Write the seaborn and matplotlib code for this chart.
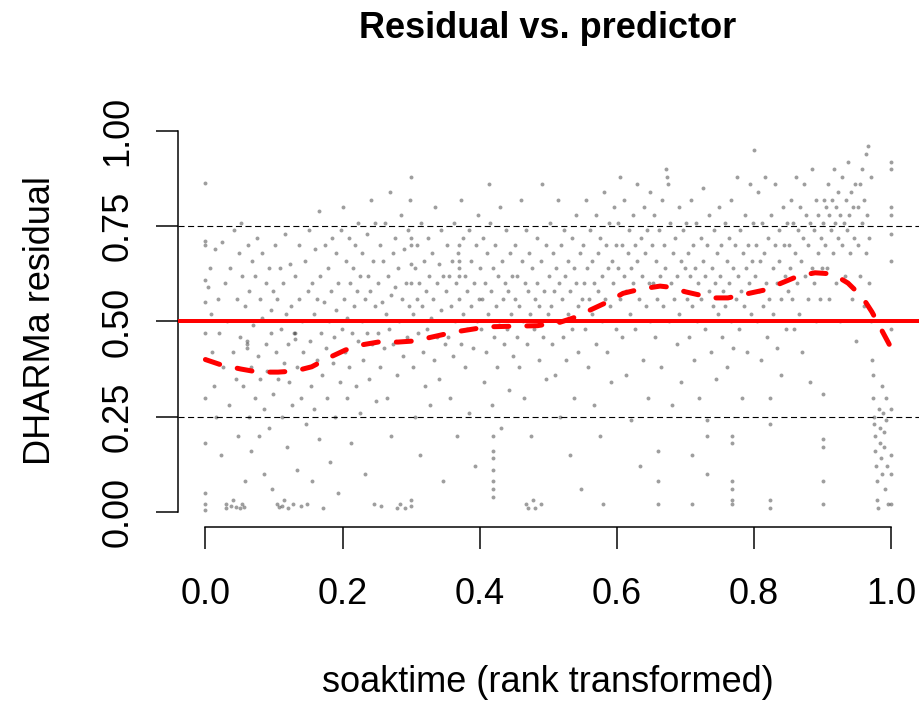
import numpy as np
import pandas as pd
import matplotlib
matplotlib.use("Agg")
import matplotlib.pyplot as plt
import seaborn as sns

# ---------------- data ----------------
b00_x = [0.000,0.000,0.000,0.000,0.000,0.000,0.000,0.000,0.000,0.000,0.000,0.000,0.004,0.006,0.008,0.010,0.012,0.014,0.016,0.018,0.020,0.022,0.024,0.026,0.028,0.030,0.030,0.032,0.034,0.036,0.038,0.040,0.040,0.042,0.044,0.045,0.046,0.048,0.049,0.050,0.050]
b00_y = [0.865,0.712,0.700,0.610,0.552,0.470,0.402,0.300,0.180,0.050,0.020,0.005,0.590,0.640,0.520,0.420,0.330,0.690,0.250,0.560,0.470,0.150,0.710,0.380,0.600,0.020,0.010,0.500,0.280,0.640,0.015,0.420,0.030,0.740,0.350,0.012,0.560,0.200,0.680,0.010,0.460]
b01_x = [0.052,0.053,0.054,0.055,0.056,0.057,0.058,0.060,0.060,0.060,0.062,0.063,0.064,0.066,0.067,0.068,0.070,0.072,0.073,0.075,0.076,0.078,0.079,0.080,0.082,0.083,0.085,0.086,0.088,0.089,0.090,0.092,0.093,0.095,0.096,0.097,0.098,0.099]
b01_y = [0.760,0.020,0.620,0.330,0.012,0.540,0.080,0.450,0.440,0.430,0.700,0.250,0.580,0.380,0.160,0.660,0.490,0.300,0.620,0.720,0.410,0.200,0.560,0.350,0.680,0.510,0.270,0.100,0.600,0.440,0.370,0.640,0.220,0.530,0.470,0.060,0.580,0.310]
b02_x = [0.101,0.103,0.104,0.105,0.106,0.108,0.109,0.110,0.111,0.112,0.113,0.114,0.115,0.116,0.118,0.119,0.120,0.121,0.122,0.124,0.125,0.126,0.128,0.129,0.130,0.130,0.131,0.133,0.134,0.136,0.137,0.139,0.140,0.141,0.143,0.145,0.146,0.148,0.149]
b02_y = [0.700,0.420,0.020,0.560,0.350,0.012,0.640,0.480,0.250,0.015,0.600,0.390,0.030,0.730,0.520,0.170,0.440,0.010,0.340,0.650,0.540,0.280,0.020,0.470,0.470,0.455,0.620,0.380,0.110,0.560,0.700,0.300,0.015,0.500,0.420,0.660,0.230,0.020,0.580]
b03_x = [0.151,0.152,0.154,0.155,0.156,0.158,0.159,0.160,0.162,0.163,0.165,0.166,0.167,0.169,0.170,0.172,0.173,0.175,0.176,0.177,0.179,0.180,0.181,0.183,0.184,0.186,0.187,0.189,0.190,0.191,0.193,0.194,0.196,0.197,0.199]
b03_y = [0.740,0.450,0.330,0.600,0.080,0.520,0.270,0.690,0.400,0.560,0.190,0.790,0.620,0.470,0.360,0.010,0.550,0.700,0.430,0.300,0.640,0.500,0.130,0.580,0.720,0.390,0.460,0.250,0.680,0.530,0.050,0.600,0.340,0.740,0.480]
b04_x = [0.201,0.202,0.203,0.205,0.206,0.207,0.209,0.210,0.211,0.213,0.214,0.215,0.217,0.218,0.219,0.221,0.222,0.223,0.225,0.226,0.228,0.229,0.230,0.232,0.233,0.235,0.236,0.237,0.239,0.240,0.241,0.243,0.244,0.246,0.247,0.248,0.249]
b04_y = [0.800,0.560,0.420,0.660,0.300,0.510,0.720,0.380,0.600,0.180,0.470,0.640,0.540,0.700,0.330,0.580,0.450,0.760,0.620,0.260,0.500,0.680,0.400,0.560,0.100,0.730,0.470,0.620,0.350,0.580,0.820,0.440,0.660,0.020,0.540,0.760,0.290]
b05_x = [0.251,0.252,0.254,0.255,0.256,0.258,0.259,0.260,0.262,0.263,0.265,0.266,0.267,0.269,0.270,0.271,0.273,0.274,0.276,0.277,0.279,0.280,0.281,0.283,0.284,0.285,0.287,0.288,0.290,0.291,0.293,0.294,0.296,0.297,0.298,0.300,0.300,0.300,0.300,0.300,0.300,0.300]
b05_y = [0.600,0.470,0.700,0.380,0.015,0.550,0.660,0.430,0.760,0.520,0.300,0.620,0.480,0.840,0.570,0.200,0.680,0.440,0.720,0.590,0.010,0.360,0.640,0.500,0.020,0.780,0.560,0.410,0.690,0.010,0.600,0.460,0.740,0.540,0.820,0.880,0.720,0.700,0.650,0.600,0.030,0.015]
b06_x = [0.302,0.303,0.305,0.306,0.308,0.309,0.310,0.312,0.313,0.315,0.316,0.318,0.319,0.320,0.322,0.323,0.325,0.326,0.328,0.329,0.331,0.332,0.334,0.335,0.337,0.338,0.340,0.341,0.343,0.344,0.346,0.347,0.349]
b06_y = [0.520,0.380,0.640,0.250,0.560,0.700,0.470,0.600,0.150,0.760,0.540,0.420,0.660,0.330,0.580,0.480,0.720,0.620,0.280,0.510,0.680,0.560,0.400,0.800,0.600,0.460,0.650,0.350,0.740,0.530,0.080,0.620,0.440]
b07_x = [0.351,0.352,0.354,0.355,0.357,0.358,0.360,0.361,0.363,0.364,0.366,0.367,0.369,0.370,0.370,0.370,0.370,0.370,0.372,0.373,0.375,0.376,0.378,0.379,0.381,0.382,0.384,0.385,0.387,0.388,0.390,0.391,0.393,0.394,0.396,0.397,0.399]
b07_y = [0.580,0.700,0.460,0.620,0.300,0.540,0.660,0.410,0.760,0.500,0.600,0.200,0.680,0.560,0.620,0.640,0.660,0.700,0.440,0.820,0.520,0.720,0.380,0.620,0.480,0.580,0.740,0.260,0.540,0.660,0.430,0.600,0.120,0.700,0.500,0.780,0.560]
b08_x = [0.401,0.402,0.404,0.405,0.406,0.408,0.409,0.411,0.412,0.414,0.415,0.416,0.418,0.419,0.420,0.420,0.420,0.420,0.420,0.420,0.420,0.421,0.422,0.424,0.425,0.426,0.428,0.429,0.431,0.432,0.434,0.435,0.437,0.438,0.440,0.441,0.443,0.444,0.446,0.447,0.449]
b08_y = [0.640,0.480,0.560,0.720,0.340,0.600,0.420,0.680,0.520,0.860,0.760,0.580,0.280,0.640,0.200,0.160,0.140,0.110,0.080,0.060,0.040,0.460,0.700,0.540,0.380,0.620,0.500,0.800,0.220,0.660,0.560,0.440,0.600,0.740,0.480,0.580,0.320,0.680,0.520,0.620,0.410]
b09_x = [0.451,0.452,0.454,0.455,0.457,0.458,0.460,0.461,0.463,0.464,0.466,0.467,0.468,0.469,0.470,0.471,0.472,0.474,0.475,0.476,0.478,0.479,0.480,0.481,0.483,0.484,0.486,0.487,0.489,0.490,0.491,0.493,0.494,0.496,0.497,0.499]
b09_y = [0.700,0.560,0.460,0.620,0.380,0.540,0.820,0.660,0.500,0.300,0.600,0.020,0.740,0.440,0.580,0.010,0.680,0.520,0.200,0.640,0.030,0.480,0.560,0.010,0.720,0.600,0.400,0.540,0.020,0.660,0.860,0.460,0.580,0.350,0.700,0.520]
b10_x = [0.501,0.502,0.504,0.505,0.507,0.508,0.510,0.511,0.513,0.514,0.516,0.517,0.519,0.520,0.522,0.523,0.525,0.526,0.528,0.529,0.531,0.532,0.534,0.535,0.537,0.538,0.540,0.541,0.543,0.544,0.546,0.547,0.549]
b10_y = [0.620,0.760,0.540,0.440,0.680,0.580,0.360,0.640,0.500,0.820,0.600,0.250,0.700,0.560,0.460,0.740,0.620,0.400,0.660,0.520,0.150,0.580,0.720,0.480,0.640,0.300,0.600,0.780,0.540,0.420,0.680,0.060,0.560]
b11_x = [0.551,0.552,0.554,0.555,0.557,0.558,0.560,0.561,0.563,0.564,0.566,0.567,0.569,0.570,0.572,0.573,0.575,0.576,0.578,0.579,0.580,0.581,0.583,0.584,0.586,0.587,0.589,0.590,0.592,0.593,0.595,0.596,0.598,0.599]
b11_y = [0.700,0.600,0.480,0.820,0.640,0.380,0.560,0.740,0.660,0.520,0.280,0.600,0.780,0.440,0.680,0.580,0.720,0.200,0.620,0.500,0.020,0.840,0.560,0.700,0.420,0.640,0.760,0.540,0.340,0.660,0.600,0.800,0.480,0.700]
b12_x = [0.601,0.602,0.604,0.605,0.607,0.608,0.610,0.611,0.613,0.614,0.616,0.617,0.619,0.620,0.621,0.623,0.624,0.626,0.627,0.629,0.630,0.632,0.633,0.635,0.636,0.638,0.639,0.641,0.642,0.644,0.645,0.647,0.648,0.649]
b12_y = [0.640,0.760,0.560,0.880,0.700,0.460,0.620,0.820,0.580,0.360,0.680,0.740,0.520,0.640,0.240,0.780,0.600,0.700,0.480,0.860,0.660,0.560,0.120,0.720,0.620,0.400,0.800,0.680,0.540,0.740,0.300,0.600,0.840,0.500]
b13_x = [0.651,0.652,0.654,0.655,0.657,0.658,0.660,0.660,0.660,0.661,0.663,0.664,0.666,0.667,0.669,0.670,0.672,0.673,0.675,0.676,0.678,0.679,0.681,0.682,0.684,0.685,0.687,0.688,0.690,0.691,0.693,0.694,0.696,0.697,0.699]
b13_y = [0.700,0.600,0.780,0.460,0.660,0.560,0.020,0.080,0.160,0.740,0.620,0.380,0.820,0.540,0.700,0.640,0.900,0.880,0.860,0.500,0.760,0.600,0.280,0.680,0.560,0.720,0.440,0.620,0.800,0.520,0.660,0.340,0.740,0.580,0.640]
b14_x = [0.701,0.702,0.704,0.705,0.707,0.708,0.710,0.710,0.710,0.711,0.713,0.714,0.716,0.717,0.719,0.720,0.722,0.723,0.725,0.726,0.728,0.729,0.731,0.731,0.731,0.732,0.734,0.735,0.737,0.738,0.740,0.741,0.743,0.744,0.746,0.747,0.749]
b14_y = [0.760,0.560,0.680,0.460,0.620,0.820,0.540,0.150,0.020,0.700,0.400,0.640,0.760,0.500,0.600,0.300,0.720,0.560,0.660,0.850,0.480,0.620,0.200,0.240,0.100,0.700,0.580,0.780,0.420,0.640,0.540,0.740,0.600,0.350,0.680,0.520,0.800]
b15_x = [0.751,0.752,0.754,0.755,0.757,0.758,0.760,0.761,0.763,0.764,0.766,0.767,0.768,0.768,0.768,0.768,0.768,0.768,0.769,0.770,0.772,0.773,0.775,0.776,0.778,0.779,0.781,0.782,0.784,0.785,0.787,0.788,0.790,0.791,0.793,0.794,0.796,0.797,0.799]
b15_y = [0.620,0.700,0.460,0.580,0.760,0.540,0.660,0.380,0.720,0.600,0.820,0.500,0.020,0.030,0.080,0.180,0.200,0.060,0.640,0.430,0.700,0.560,0.880,0.620,0.480,0.740,0.580,0.300,0.680,0.540,0.780,0.640,0.420,0.700,0.600,0.860,0.520,0.660,0.760]
b16_x = [0.800,0.801,0.803,0.804,0.806,0.807,0.809,0.810,0.812,0.813,0.815,0.816,0.818,0.819,0.821,0.822,0.824,0.824,0.824,0.824,0.825,0.827,0.828,0.830,0.831,0.833,0.834,0.836,0.837,0.839,0.840,0.842,0.843,0.845,0.846,0.848,0.849]
b16_y = [0.950,0.620,0.700,0.500,0.840,0.580,0.660,0.400,0.760,0.540,0.680,0.880,0.600,0.460,0.720,0.560,0.300,0.230,0.010,0.030,0.780,0.640,0.520,0.700,0.860,0.600,0.430,0.740,0.660,0.560,0.360,0.800,0.700,0.620,0.480,0.760,0.580]
b17_x = [0.851,0.852,0.854,0.855,0.857,0.858,0.860,0.861,0.863,0.864,0.866,0.867,0.869,0.870,0.872,0.873,0.875,0.876,0.878,0.879,0.881,0.882,0.884,0.885,0.887,0.888,0.890,0.891,0.893,0.894,0.896,0.897,0.899,0.900,0.900,0.900,0.900,0.900]
b17_y = [0.700,0.640,0.820,0.560,0.760,0.480,0.680,0.880,0.600,0.740,0.520,0.800,0.660,0.420,0.720,0.860,0.620,0.780,0.560,0.700,0.340,0.760,0.640,0.900,0.600,0.740,0.500,0.820,0.680,0.780,0.560,0.720,0.640,0.020,0.080,0.170,0.190,0.310]
b18_x = [0.901,0.902,0.903,0.905,0.906,0.908,0.909,0.910,0.912,0.913,0.915,0.916,0.918,0.919,0.920,0.922,0.923,0.925,0.926,0.928,0.929,0.931,0.932,0.934,0.935,0.937,0.938,0.940,0.941,0.943,0.944,0.946,0.947,0.949]
b18_y = [0.760,0.820,0.700,0.800,0.640,0.860,0.780,0.560,0.740,0.820,0.680,0.900,0.760,0.600,0.800,0.720,0.840,0.500,0.780,0.700,0.880,0.760,0.620,0.820,0.740,0.920,0.780,0.680,0.840,0.560,0.800,0.720,0.860,0.450]
b19_x = [0.951,0.952,0.954,0.955,0.957,0.958,0.960,0.961,0.963,0.964,0.965,0.966,0.967,0.968,0.970,0.971,0.972,0.973,0.974,0.975,0.975,0.976,0.977,0.978,0.979,0.980,0.981,0.982,0.983,0.984,0.985,0.986,0.987,0.988,0.989,0.990,0.991,0.992,0.993,0.994,0.995,1.000,1.000,1.000,1.000,1.000,1.000,1.000,1.000,1.000,1.000,1.000]
b19_y = [0.800,0.700,0.860,0.620,0.760,0.900,0.540,0.820,0.680,0.940,0.780,0.960,0.600,0.720,0.880,0.500,0.400,0.360,0.300,0.250,0.230,0.200,0.160,0.120,0.080,0.030,0.010,0.270,0.220,0.180,0.140,0.100,0.330,0.260,0.210,0.170,0.060,0.300,0.240,0.120,0.020,0.920,0.900,0.800,0.780,0.730,0.660,0.480,0.270,0.150,0.100,0.020]

smooth_x = [0.000,0.023,0.052,0.077,0.106,0.131,0.155,0.179,0.204,0.226,0.252,0.281,0.306,0.325,0.362,0.411,0.459,0.484,0.517,0.536,0.561,0.586,0.609,0.634,0.663,0.678,0.700,0.739,0.762,0.816,0.864,0.889,0.915,0.937,0.958,0.972,0.996,1.000]
smooth_y = [0.400,0.386,0.375,0.367,0.367,0.370,0.381,0.404,0.425,0.438,0.446,0.446,0.449,0.457,0.472,0.486,0.488,0.489,0.498,0.509,0.530,0.551,0.574,0.585,0.593,0.590,0.578,0.562,0.562,0.583,0.619,0.628,0.625,0.601,0.564,0.525,0.444,0.430]

x_ticks = [0.0, 0.2, 0.4, 0.6, 0.8, 1.0]
x_tick_labels = ["0.0", "0.2", "0.4", "0.6", "0.8", "1.0"]
y_ticks = [0.0, 0.25, 0.5, 0.75, 1.0]
y_tick_labels = ["0.00", "0.25", "0.50", "0.75", "1.00"]
quantile_lines = [0.25, 0.75]
expected_line = 0.5

# ---------------- build tables ----------------
xs = sum([b00_x,b01_x,b02_x,b03_x,b04_x,b05_x,b06_x,b07_x,b08_x,b09_x,
          b10_x,b11_x,b12_x,b13_x,b14_x,b15_x,b16_x,b17_x,b18_x,b19_x], [])
ys = sum([b00_y,b01_y,b02_y,b03_y,b04_y,b05_y,b06_y,b07_y,b08_y,b09_y,
          b10_y,b11_y,b12_y,b13_y,b14_y,b15_y,b16_y,b17_y,b18_y,b19_y], [])
pts = pd.DataFrame({"soaktime": xs, "residual": ys})
smooth = pd.DataFrame({"soaktime": smooth_x, "residual": smooth_y})

# ---------------- figure ----------------
sns.set_style("ticks")
plt.rcParams["font.family"] = ["Liberation Sans", "DejaVu Sans"]
plt.rcParams["text.color"] = "black"

W, H = 922, 703
fig = plt.figure(figsize=(W / 100, H / 100), dpi=100)
ax = fig.add_axes([178 / W, 1 - 527 / H, (918.6 - 178) / W, (527 - 116) / H])

sns.scatterplot(data=pts, x="soaktime", y="residual", ax=ax, color="black",
                alpha=0.38, s=8, linewidth=0, legend=False, zorder=2)

px = 1 / 100 * 72  # one pixel in points
for q in quantile_lines:
    ax.axhline(q, color="black", lw=1.1 * px, linestyle=(0, (5.5, 3.2)), zorder=3)
ax.axhline(expected_line, color="#FF0000", lw=4 * px, zorder=4, solid_capstyle="butt")

sns.lineplot(data=smooth, x="soaktime", y="residual", ax=ax, color="#FF0000",
             lw=5 * px, sort=False, estimator=None, zorder=5)
line = ax.lines[-1]
line.set_linestyle((0, (3.0, 3.6)))
line.set_dash_capstyle("round")

ax.set_xlim(-0.04, 1.04)
ax.set_ylim(-0.04, 1.04)
ax.set_xlabel("")
ax.set_ylabel("")
for s in ["top", "right"]:
    ax.spines[s].set_visible(False)
ax.spines["left"].set_bounds(0, 1)
ax.spines["bottom"].set_bounds(0, 1)
for s in ["left", "bottom"]:
    ax.spines[s].set_linewidth(1.5 * px)
    ax.spines[s].set_color("black")

ax.set_xticks(x_ticks)
ax.set_xticklabels(x_tick_labels)
ax.set_yticks(y_ticks)
ax.set_yticklabels(y_tick_labels, rotation=90, va="center")
ax.tick_params(axis="both", direction="out", length=22 * px, width=1.5 * px,
               color="black", labelsize=26, labelcolor="black",
               bottom=True, left=True)
ax.tick_params(axis="x", pad=20)
ax.tick_params(axis="y", pad=15)

fig.text(548 / W, 1 - 28 / H, "Residual vs. predictor", ha="center", va="center",
         fontsize=26, fontweight="bold", color="black")
fig.text(548 / W, 1 - 683 / H, "soaktime (rank transformed)", ha="center",
         va="center", fontsize=26, color="black")
fig.text(40 / W, 1 - 321 / H, "DHARMa residual", ha="center", va="center",
         fontsize=26, rotation=90, color="black")

fig.savefig("out.png", dpi=100)
